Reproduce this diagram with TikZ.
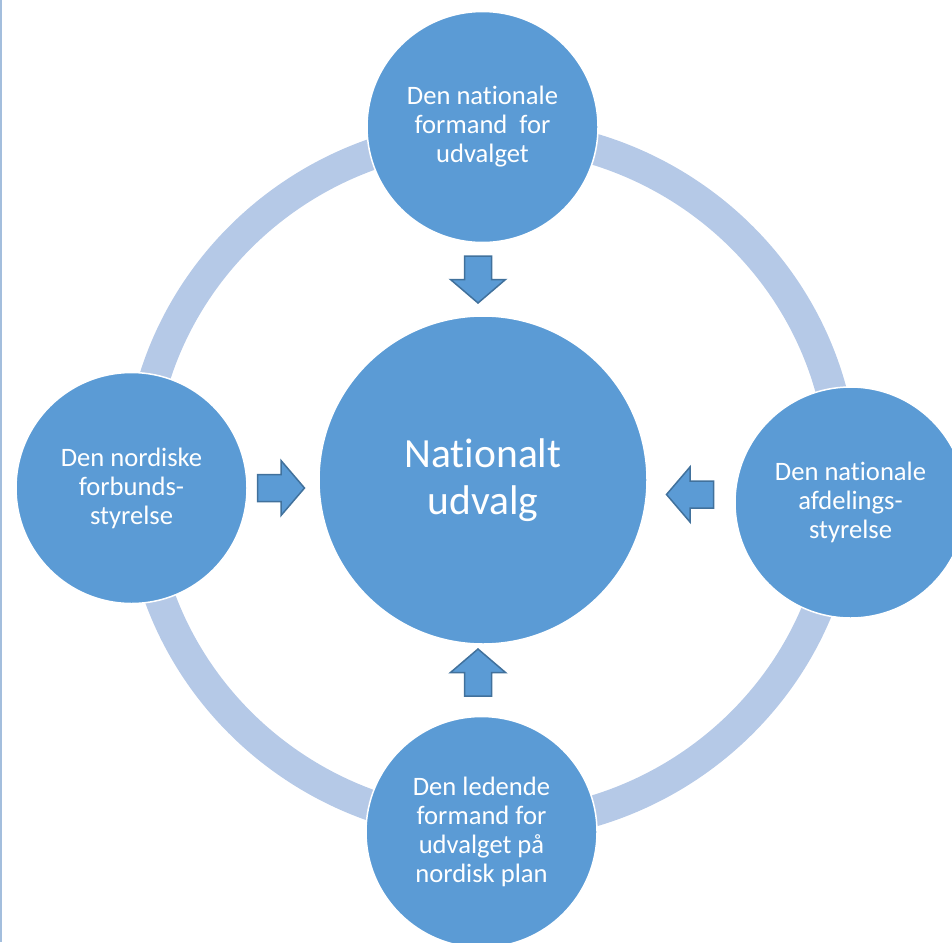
\documentclass[tikz,border=0pt]{standalone}
\usepackage{fontspec}
\setmainfont{Carlito}[Ligatures=NoCommon]
\definecolor{circfill}{HTML}{5B9BD5}
\definecolor{ringc}{HTML}{B5C9E7}
\definecolor{arrowline}{HTML}{41719C}
\definecolor{edgec}{HTML}{A3BEDD}
\tikzset{
  outer/.style={circle, fill=circfill, draw=white, line width=1.5pt, minimum size=231pt, inner sep=0pt,
    text=white, align=center, font=\fontsize{26.6}{29}\selectfont},
  center/.style={circle, fill=circfill, draw=white, line width=1.5pt, minimum size=328pt, inner sep=0pt,
    text=white, align=center, font=\fontsize{41.5}{47}\selectfont},
  arrowstyle/.style={fill=circfill, draw=arrowline, line width=1.5pt, line join=miter},
  blockarrow/.pic={\draw[arrowstyle] (-23.5,-13.5) -- (0,-13.5) -- (0,-27.5) -- (23.5,0) -- (0,27.5) -- (0,13.5) -- (-23.5,13.5) -- cycle;}
}
\begin{document}
\begin{tikzpicture}[x=1pt,y=-1pt]
\useasboundingbox (0,0) rectangle (952,942);
% left edge line
\coordinate (edgetop) at (0.75,0);
\coordinate (edgebot) at (0.75,942);
\draw[edgec, line width=1.5pt] (edgetop) -- (edgebot);
% ring
\coordinate (ringc) at (491,480);
\draw[ringc, line width=31pt] (ringc) ellipse [x radius=352, y radius=346];
% circles
\node[center] (mid) at (483,480) {Nationalt\\udvalg};
\node[outer] (top) at (482.5,127) {Den nationale\\formand\ \ for\\udvalget};
\node[outer] (left) at (131.5,488) {Den nordiske\\forbunds-\\styrelse};
\node[outer] (right) at (850.5,502.5) {Den nationale\\afdelings-\\styrelse};
\node[outer] (bottom) at (481.5,832) {Den ledende\\formand for\\udvalget på\\nordisk plan};
% arrows
\pic[rotate=-90] at (478,279.5) {blockarrow};
\pic[rotate=90] at (478,672.5) {blockarrow};
\pic at (281,488) {blockarrow};
\pic[rotate=180] at (690,494.5) {blockarrow};
\end{tikzpicture}
\end{document}
